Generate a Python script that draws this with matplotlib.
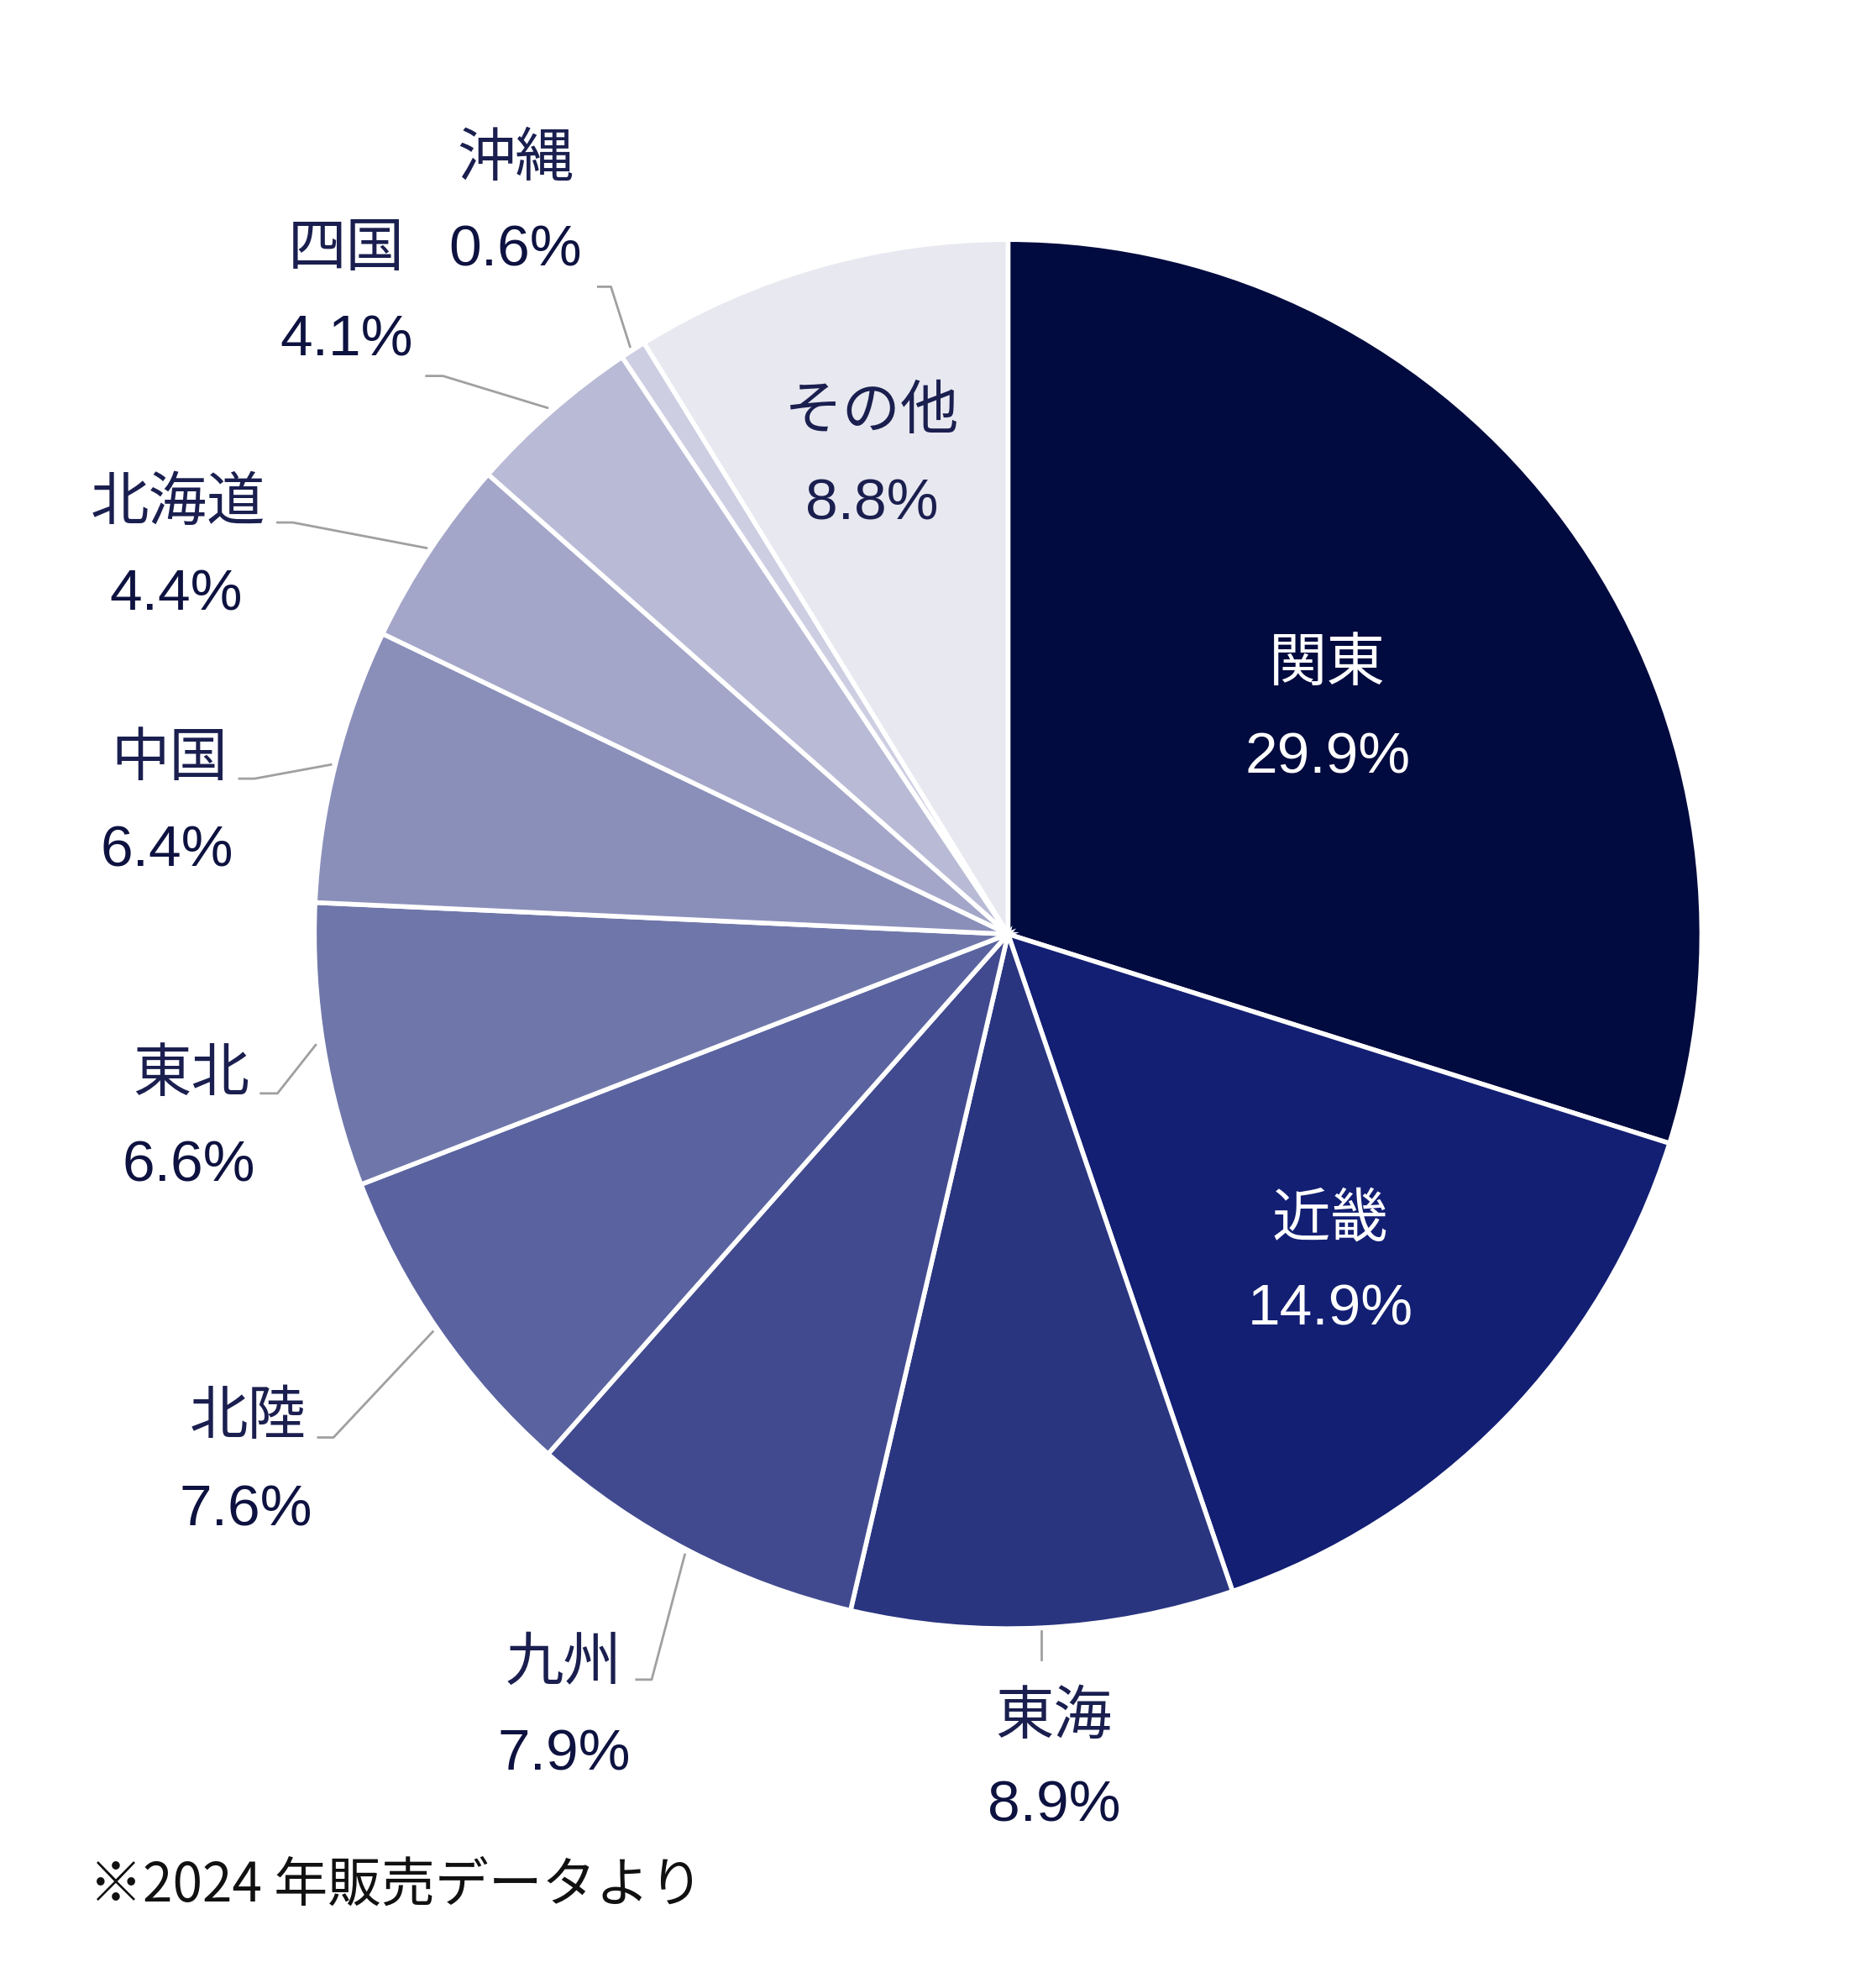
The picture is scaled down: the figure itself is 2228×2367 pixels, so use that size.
import matplotlib
matplotlib.use("Agg")
from matplotlib import pyplot as plt

regions = ["関東", "近畿", "東海", "九州", "北陸", "東北", "中国", "北海道", "四国", "沖縄", "その他"]
shares = [29.9, 14.9, 8.9, 7.9, 7.6, 6.6, 6.4, 4.4, 4.1, 0.6, 8.8]
colors = ["#020b3f", "#131f73", "#2a3580", "#424a8f", "#5a63a0", "#6f77aa",
          "#8a8fba", "#a3a6c8", "#b9bbd6", "#cdcee2", "#e8e8f0"]
footnote = "※2024 年販売データより"

# layout helpers (reference measured at 1470x1560, pie centre 792,733 r=545)
CX, CY, R = 792, 733, 545


def u(x, y):
    return (x - CX) / R, (CY - y) / R


# name pos, pct pos, leader points
outside = {
    "東海": ((828, 1347), (828, 1417), [(818, 1280), (818, 1302)]),
    "九州": ((443, 1305), (443, 1377), [(538, 1220), (512, 1318), (500, 1318)]),
    "北陸": ((195, 1112), (193, 1185), [(340, 1045), (262, 1128), (250, 1128)]),
    "東北": ((150, 843), (148, 915), [(248, 820), (218, 858), (205, 858)]),
    "中国": ((133, 595), (131, 668), [(260, 600), (200, 611), (188, 611)]),
    "北海道": ((140, 395), (138, 467), [(335, 430), (230, 410), (218, 410)]),
    "四国": ((272, 195), (272, 267), [(430, 320), (348, 295), (335, 295)]),
    "沖縄": ((405, 125), (405, 197), [(495, 272), (480, 225), (470, 225)]),
}
inside = {
    "関東": ((1043, 521), (1043, 595), "white"),
    "近畿": ((1045, 957), (1045, 1028), "white"),
    "その他": ((685, 323), (685, 396), "#1a1f4f"),
}

plt.rcParams["font.family"] = ["Noto Sans CJK JP", "Liberation Sans", "DejaVu Sans"]

fig = plt.figure(figsize=(22.28, 23.67), dpi=100)
ax = fig.add_axes([0, 0, 1, 1])
ax.pie(shares, colors=colors, startangle=90, counterclock=False, radius=1,
       wedgeprops=dict(edgecolor="white", linewidth=4))
ax.set_xlim(-CX / R, (1470 - CX) / R)
ax.set_ylim(-(1560 - CY) / R, CY / R)
ax.set_aspect("auto")
ax.axis("off")

name_fs, pct_fs = 50, 50
for name, share in zip(regions, shares):
    pct = f"{share:.1f}%"
    if name in inside:
        (npos, ppos, col) = inside[name]
        ax.text(*u(*npos), name, ha="center", va="center", fontsize=name_fs, color=col)
        ax.text(*u(*ppos), pct, ha="center", va="center", fontsize=pct_fs, color=col,
                fontfamily="Liberation Sans")
    else:
        npos, ppos, pts = outside[name]
        ax.text(*u(*npos), name, ha="center", va="center", fontsize=name_fs, color="#1a1f4f")
        ax.text(*u(*ppos), pct, ha="center", va="center", fontsize=pct_fs, color="#0d1240",
                fontfamily="Liberation Sans")
        xs, ys = zip(*[u(*p) for p in pts])
        ax.plot(xs, ys, color="#a0a0a0", lw=2)

ax.text(*u(70, 1480), footnote, ha="left", va="center", fontsize=46, color="#111111")

fig.savefig("out.png", dpi=100)
